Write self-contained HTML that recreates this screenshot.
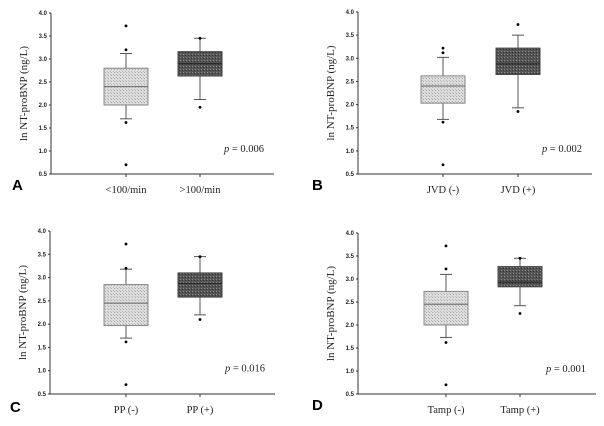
<!DOCTYPE html>
<html><head><meta charset="utf-8"><style>
html,body{margin:0;padding:0;background:#fff;}
svg{display:block;font-family:"Liberation Serif",serif;}
.tick{font-family:"Liberation Sans",sans-serif;font-size:6px;fill:#222;font-weight:bold}
</style></head><body>
<svg id="c" width="604" height="426" viewBox="0 0 604 426" xmlns="http://www.w3.org/2000/svg">
<defs>
<pattern id="lt" width="3" height="3" patternUnits="userSpaceOnUse"><rect width="3" height="3" fill="#ddd"/><rect width="1" height="1" fill="#aaa"/><rect x="2" y="2" width="1" height="1" fill="#bbb"/></pattern>
<pattern id="dk" width="3" height="3" patternUnits="userSpaceOnUse"><rect width="3" height="3" fill="#555"/><rect width="1" height="1" fill="#888"/><rect x="2" y="1" width="1" height="1" fill="#333"/></pattern>
</defs>
</svg>
<script>
const panelLetters=['A','B','C','D'];
const categoryLabels=[['<100/min','>100/min'],['JVD (-)','JVD (+)'],['PP (-)','PP (+)'],['Tamp (-)','Tamp (+)']];
const pValues=['0.006','0.002','0.016','0.001'];
const yTicks=[0.5,1.0,1.5,2.0,2.5,3.0,3.5,4.0];
// [whiskerLow, q1, median, q3, whiskerHigh]
const boxStats=[
 [[1.70,2.00,2.40,2.80,3.12],[2.12,2.63,2.90,3.16,3.45]],
 [[1.68,2.03,2.40,2.62,3.02],[1.93,2.65,2.88,3.22,3.50]],
 [[1.70,1.97,2.45,2.85,3.18],[2.20,2.58,2.87,3.10,3.45]],
 [[1.73,2.00,2.45,2.73,3.10],[2.42,2.83,2.93,3.27,3.45]]
];
const outliers=[
 [[3.72,3.20,1.62,0.70],[1.95,3.45]],
 [[3.22,3.12,1.62,0.70],[3.73,1.85]],
 [[3.72,3.20,1.62,0.70],[2.10,3.45]],
 [[3.72,3.22,1.62,0.70],[2.25,3.45]]
];
const geo=[
 {ax:51,top:13,bot:174,xe:274,c:[126,200],lx:12,ly:190},
 {ax:358,top:12,bot:174,xe:592,c:[443,518],lx:312,ly:190},
 {ax:50,top:231,bot:394,xe:275,c:[126,200],lx:10,ly:412},
 {ax:358,top:233,bot:394,xe:596,c:[446,520],lx:312,ly:410}
];
const svg=document.getElementById('c');
const NS='http://www.w3.org/2000/svg';
function mk(t,a,p){const e=document.createElementNS(NS,t);for(const k in a)e.setAttribute(k,a[k]);(p||svg).appendChild(e);return e;}
geo.forEach((g,i)=>{
 const grp=mk('g',{});
 
 
 const y=v=>g.bot-(v-0.5)/3.5*(g.bot-g.top);
 const ya=mk('line',{x1:g.ax,y1:g.top,x2:g.ax,y2:g.bot,stroke:'#333','stroke-width':1},grp);
 
 const xa=mk('line',{x1:g.ax,y1:g.bot,x2:g.xe,y2:g.bot,stroke:'#333','stroke-width':1},grp);
 
 yTicks.forEach(v=>{
  mk('line',{x1:g.ax-2,y1:y(v),x2:g.ax,y2:y(v),stroke:'#333'},grp);
  const t=mk('text',{x:g.ax-4,y:y(v)+2,'text-anchor':'end',class:'tick'},grp);t.textContent=v.toFixed(1);
  
 });
 const mid=(g.top+g.bot)/2;
 const tt=mk('text',{x:0,y:0,transform:`translate(${g.ax-24},${mid}) rotate(-90)`,'text-anchor':'middle','font-size':11,fill:'#222'},grp);
 tt.textContent='ln NT-proBNP (ng/L)';
 
 [0,1].forEach(j=>{
  const s=boxStats[i][j],cx=g.c[j],w=44;
  mk('line',{x1:cx,y1:y(s[0]),x2:cx,y2:y(s[4]),stroke:'#555'},grp);
  mk('line',{x1:cx-6,y1:y(s[0]),x2:cx+6,y2:y(s[0]),stroke:'#555'},grp);
  mk('line',{x1:cx-6,y1:y(s[4]),x2:cx+6,y2:y(s[4]),stroke:'#555'},grp);
  const b=mk('rect',{x:cx-w/2,y:y(s[3]),width:w,height:y(s[1])-y(s[3]),fill:j?'url(#dk)':'url(#lt)',stroke:j?'#444':'#888','stroke-width':1},grp);
  
  mk('line',{x1:cx-w/2,y1:y(s[2]),x2:cx+w/2,y2:y(s[2]),stroke:j?'#222':'#666','stroke-width':1},grp);
  mk('line',{x1:cx,y1:g.bot,x2:cx,y2:g.bot+3,stroke:'#333'},grp);
  outliers[i][j].forEach(v=>{
   const o=mk('circle',{cx:cx,cy:y(v),r:1.4,fill:'#000'},grp);
   
  });
  const cl=mk('text',{x:cx,y:g.bot+19,'text-anchor':'middle','font-size':10.5,fill:'#222'},grp);
  cl.textContent=categoryLabels[i][j];
  
 });
 const p=mk('text',{x:g.xe-10,y:y(0.98),'text-anchor':'end','font-size':10.5,fill:'#222'},grp);
 p.innerHTML='<tspan font-style="italic">p</tspan> = '+pValues[i];
 
 const L=mk('text',{x:g.lx,y:g.ly,'font-size':15,'font-weight':'bold','font-family':'Liberation Sans, sans-serif',fill:'#000'},grp);
 L.textContent=panelLetters[i];
 
});
</script>
</body></html>
